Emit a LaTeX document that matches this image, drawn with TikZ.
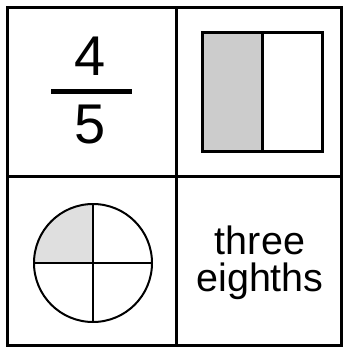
\documentclass[tikz,border=0pt]{standalone}
\usepackage{fontspec}
\setmainfont{Liberation Sans}
\begin{document}
\begin{tikzpicture}[x=1pt,y=-1pt,
  grid/.style={line width=3pt},
  boxline/.style={line width=3pt},
  circ/.style={line width=2pt},
  big/.style={font=\fontsize{56}{56}\selectfont, inner sep=0pt, anchor=base},
  words/.style={font=\fontsize{39.5}{37}\selectfont, align=center, inner sep=0pt}]
\useasboundingbox (0,0) rectangle (344,348);
% grid
\draw[grid] (7,7) rectangle (341,345);
\draw[grid] (176,7) -- (176,345);
\draw[grid] (7,176) -- (341,176);
% fraction
\node[big] (num) at (90,75) {4};
\node[big] (den) at (90,143) {5};
\draw[line width=5pt] (51,91) -- (132,91);
% rectangle
\fill[gray!40] (202,32) rectangle (262,151);
\draw[boxline] (202,32) rectangle (322,151);
\draw[boxline] (262,32) -- (262,151);
% circle
\coordinate (c) at (93,263);
\fill[gray!25] (c) -- (34,263) arc[start angle=180,end angle=90,radius=59pt] -- cycle;
\draw[circ] (c) circle[radius=59pt];
\draw[circ] (34,263) -- (152,263);
\draw[circ] (93,204) -- (93,322);
% words
\node[words] (w) at (260,263) {three\\eighths};
\end{tikzpicture}
\end{document}
